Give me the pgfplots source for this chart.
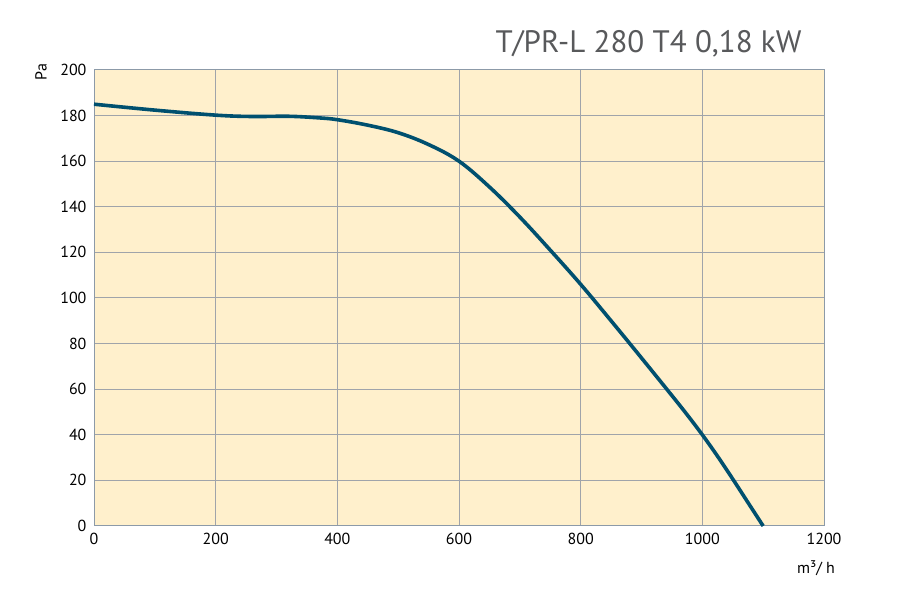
\documentclass[border=0pt]{standalone}
\usepackage{pgfplots}
\pgfplotsset{compat=1.18}
\usepackage{fontspec}
\setmainfont{PT Sans}
\definecolor{bgfill}{HTML}{FFF0CC}
\definecolor{curve}{HTML}{00506F}
\definecolor{gridc}{HTML}{A0A4AA}
\definecolor{framec}{HTML}{8C9AA8}
\definecolor{titlec}{HTML}{58595B}
\begin{document}
\begin{tikzpicture}
\path[use as bounding box] (0,0) rectangle (900pt,600pt);
\begin{axis}[
  at={(94pt,74pt)}, anchor=south west,
  scale only axis, width=730pt, height=456pt,
  xmin=0, xmax=1200, ymin=0, ymax=200,
  xtick={0,200,...,1200}, ytick={0,20,...,200},
  grid=major,
  major grid style={gridc, line width=1pt},
  axis line style={framec, line width=1pt},
  axis background/.style={fill=bgfill},
  tick style={draw=none},
  ticklabel style={font=\fontsize{16}{18}\selectfont, text=black},
  /pgf/number format/assume math mode=true,
  /pgf/number format/1000 sep={},
  xticklabel style={yshift=-4pt},
  yticklabel style={xshift=-4pt},
  clip=false,
]
\addplot[curve, line width=3.6pt, smooth, tension=0.6] coordinates {
(0,185) (100,182.4) (200,180.2) (260,179.6) (320,179.7) (370,179) (400,178.2)
(450,175.8) (500,172.5) (550,167.3) (600,160) (650,148.7) (700,135.5)
(750,121) (800,106) (850,90) (900,73.7) (950,57.2) (975,48.8) (1000,40)
(1025,30.6) (1050,20.6) (1075,10.3) (1100,0)
};
\end{axis}
\node[rotate=90, font=\fontsize{16}{18}\selectfont] at (41pt,528pt) {Pa};
\node[font=\fontsize{16}{18}\selectfont] at (816pt,32pt) {m³/ h};
\node[anchor=east, font=\fontsize{31}{34}\selectfont, text=titlec] at (805pt,556pt) {T/PR-L 280 T4 0,18 kW};
\end{tikzpicture}
\end{document}
